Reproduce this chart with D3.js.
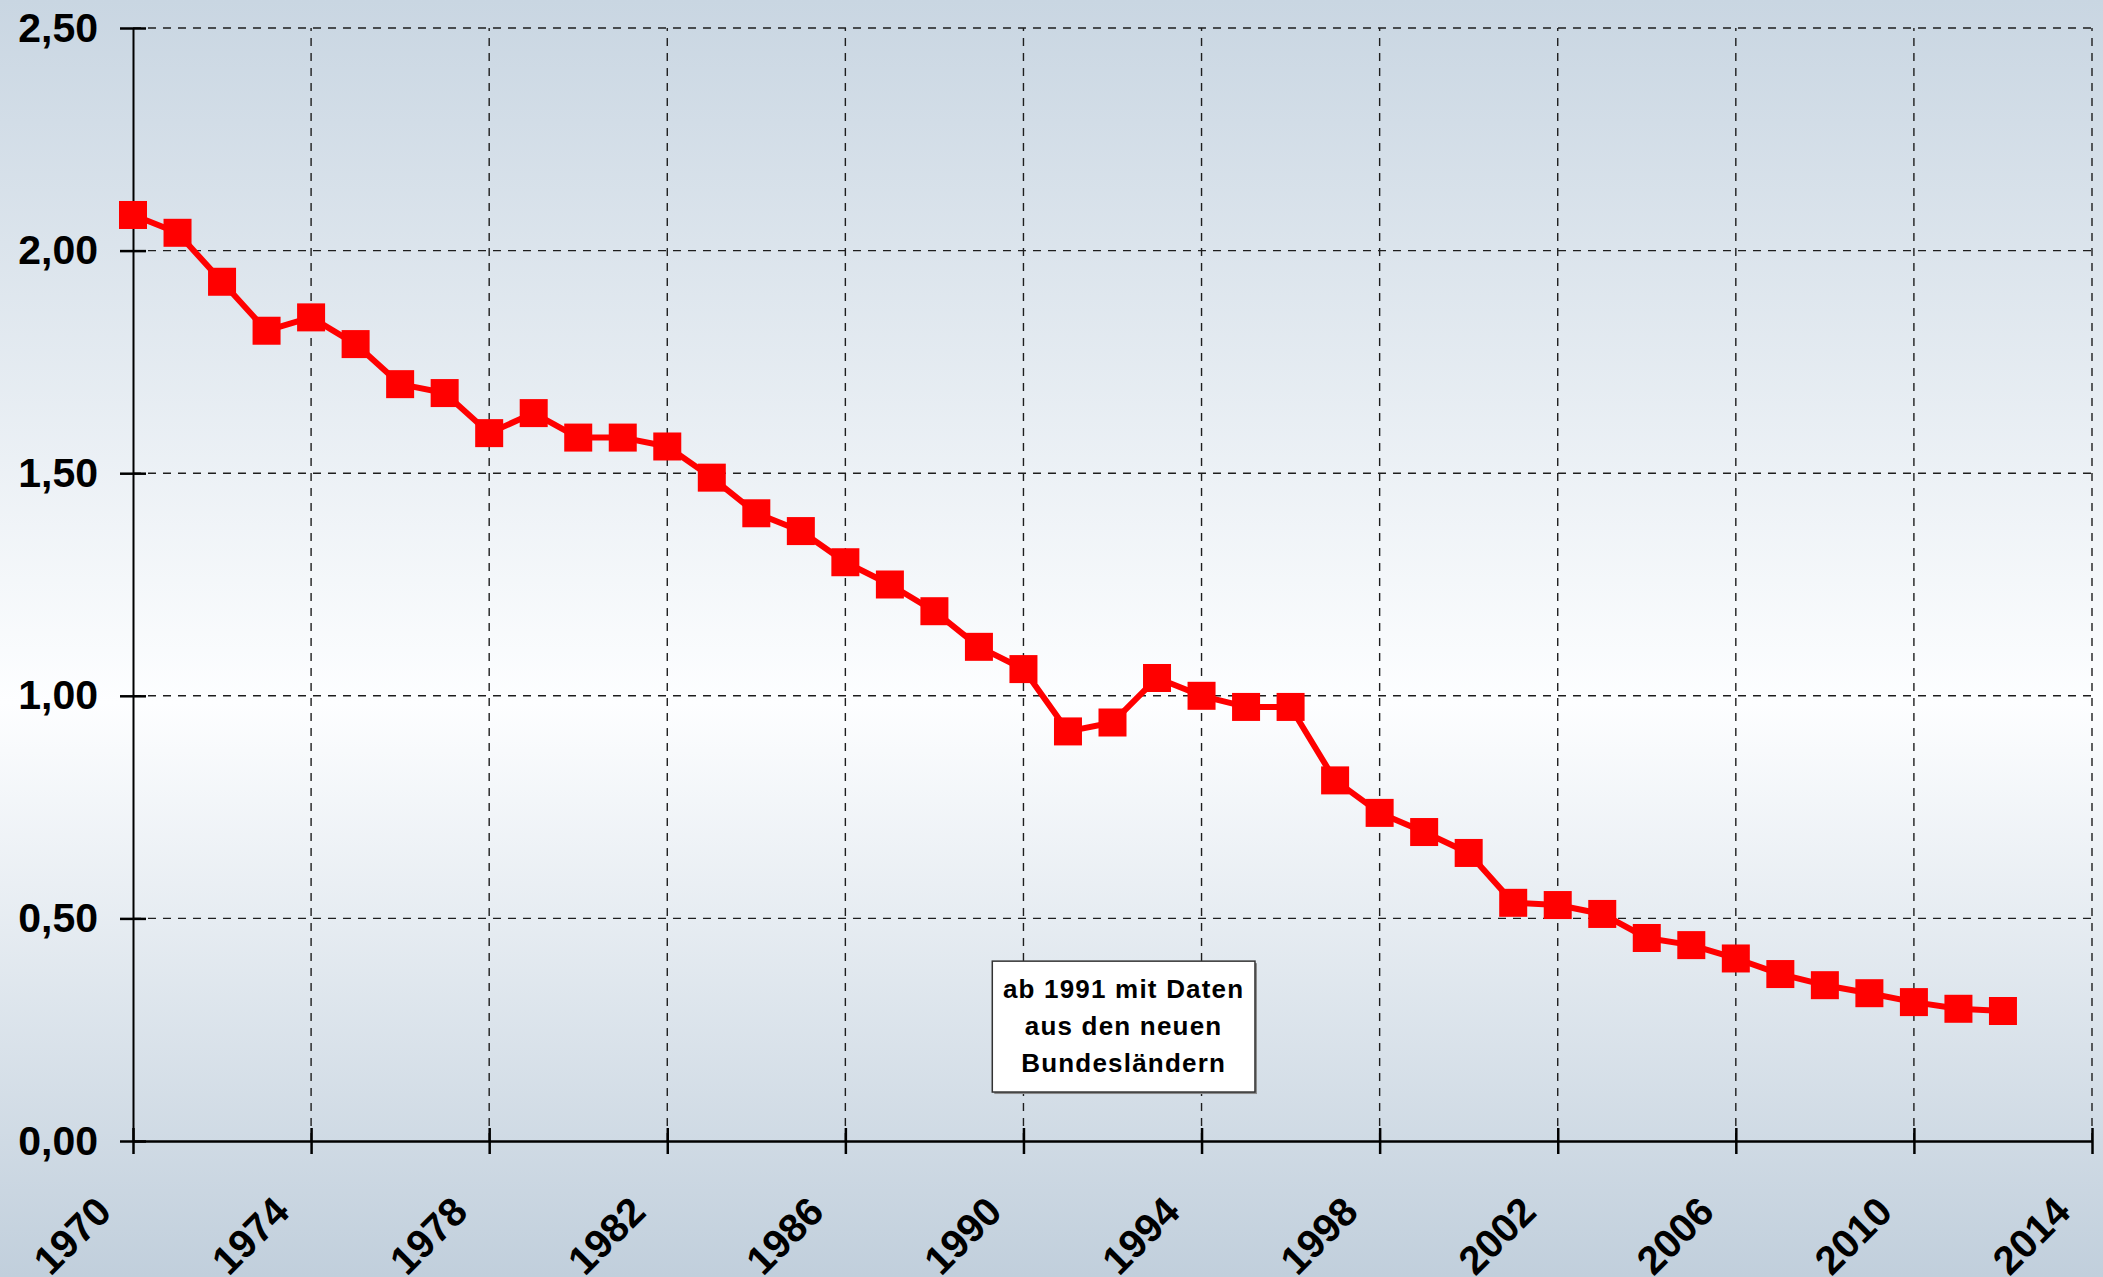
<!DOCTYPE html>
<html>
<head>
<meta charset="utf-8">
<script src="https://cdn.jsdelivr.net/npm/d3@7"></script>
<style>
  html, body { margin: 0; padding: 0; }
  svg { display: block; font-family: "Liberation Sans", Arial, sans-serif; }
</style>
</head>
<body>
<svg id="chart" width="2103" height="1277"></svg>
<script>
// Werte je Jahr
var years = [1970, 1971, 1972, 1973, 1974, 1975, 1976, 1977, 1978, 1979,
             1980, 1981, 1982, 1983, 1984, 1985, 1986, 1987, 1988, 1989,
             1990, 1991, 1992, 1993, 1994, 1995, 1996, 1997, 1998, 1999,
             2000, 2001, 2002, 2003, 2004, 2005, 2006, 2007, 2008, 2009,
             2010, 2011, 2012];
var values = [2.08, 2.04, 1.93, 1.82, 1.85, 1.79, 1.70, 1.68, 1.59, 1.635,
              1.58, 1.58, 1.56, 1.49, 1.41, 1.37, 1.30, 1.25, 1.19, 1.11,
              1.06, 0.92, 0.94, 1.04, 1.00, 0.975, 0.975, 0.81, 0.737, 0.694,
              0.647, 0.535, 0.53, 0.51, 0.456, 0.44, 0.41, 0.375, 0.35, 0.332,
              0.312, 0.297, 0.292];
var xTicks = [1970, 1974, 1978, 1982, 1986, 1990, 1994, 1998, 2002, 2006, 2010, 2014];
var yTicks = [0, 0.5, 1, 1.5, 2, 2.5];
var noteLines = ["ab 1991 mit Daten", "aus den neuen", "Bundesländern"];

var svg = d3.select("#chart"),
    W = +svg.attr("width"),
    H = +svg.attr("height"),
    margin = {top: 28, right: 11, bottom: 136, left: 133};

var data = years.map(function(y, i) { return {year: y, value: values[i]}; });

var de = d3.formatLocale({decimal: ",", thousands: ".", grouping: [3], currency: ["", " €"]});
var fmt = de.format(".2f");

// Hintergrund
var grad = svg.append("defs").append("linearGradient")
    .attr("id", "bg").attr("x1", 0).attr("y1", 0).attr("x2", 0).attr("y2", 1);
grad.append("stop").attr("offset", "0%").attr("stop-color", "#c9d6e2");
grad.append("stop").attr("offset", "55%").attr("stop-color", "#fdfeff");
grad.append("stop").attr("offset", "100%").attr("stop-color", "#c1cfdc");
svg.append("rect").attr("width", W).attr("height", H).attr("fill", "url(#bg)");

var x = d3.scaleLinear()
    .domain([1970, 2014])
    .range([margin.left, W - margin.right]);

var y = d3.scaleLinear()
    .domain([0, 2.5])
    .range([H - margin.bottom, margin.top]);

// Gitter
svg.append("g").selectAll("line")
    .data(yTicks.filter(function(d) { return d > 0; }))
    .enter().append("line")
    .attr("x1", x(1970)).attr("x2", x(2014))
    .attr("y1", y).attr("y2", y)
    .attr("stroke", "#1e1e1e").attr("stroke-width", 1.4)
    .attr("stroke-dasharray", "8,7");

svg.append("g").selectAll("line")
    .data(xTicks.filter(function(d) { return d > 1970; }))
    .enter().append("line")
    .attr("x1", x).attr("x2", x)
    .attr("y1", y(0)).attr("y2", y(2.5))
    .attr("stroke", "#1e1e1e").attr("stroke-width", 1.4)
    .attr("stroke-dasharray", "8,7");

// Achsen
var yAxis = svg.append("g")
    .attr("transform", "translate(" + x(1970) + ",0)")
    .call(d3.axisLeft(y).tickValues(yTicks).tickFormat(fmt).tickSize(0).tickPadding(35));
yAxis.select(".domain").attr("stroke", "#000").attr("stroke-width", 2);
yAxis.selectAll(".tick").append("line")
    .attr("x1", -13).attr("x2", 13)
    .attr("stroke", "#000").attr("stroke-width", 2.5);
yAxis.selectAll("text")
    .attr("font-size", 41).attr("font-weight", "bold")
    .attr("fill", "#000")
    .attr("font-family", "'Liberation Sans', Arial, sans-serif");

var xAxis = svg.append("g")
    .attr("transform", "translate(0," + y(0) + ")")
    .call(d3.axisBottom(x).tickValues(xTicks).tickFormat(d3.format("d")).tickSize(0));
xAxis.select(".domain").attr("stroke", "#000").attr("stroke-width", 2.5);
xAxis.selectAll(".tick line").remove();
xAxis.selectAll(".tick").append("line")
    .attr("y1", -13).attr("y2", 13)
    .attr("stroke", "#000").attr("stroke-width", 2.5);
xAxis.selectAll("text")
    .attr("font-size", 40).attr("font-weight", "bold")
    .attr("fill", "#000")
    .attr("font-family", "'Liberation Sans', Arial, sans-serif")
    .attr("text-anchor", "end")
    .attr("dy", 0)
    .attr("y", 0)
    .attr("transform", "translate(-20,73) rotate(-45)");

// Linie
var line = d3.line()
    .x(function(d) { return x(d.year); })
    .y(function(d) { return y(d.value); });

svg.append("path")
    .datum(data)
    .attr("fill", "none")
    .attr("stroke", "#ff0000")
    .attr("stroke-width", 6)
    .attr("stroke-linejoin", "round")
    .attr("d", line);

var size = 28;
svg.append("g").selectAll("rect")
    .data(data)
    .enter().append("rect")
    .attr("x", function(d) { return x(d.year) - size / 2; })
    .attr("y", function(d) { return y(d.value) - size / 2; })
    .attr("width", size).attr("height", size)
    .attr("fill", "#ff0000");

// Hinweis
var note = svg.append("g");
var bx0 = x(1989.3), bx1 = x(1995.2), by0 = y(0.404), by1 = y(0.11);
note.append("rect")
    .attr("x", bx0 + 2).attr("y", by0 + 2)
    .attr("width", bx1 - bx0).attr("height", by1 - by0)
    .attr("fill", "#8a8a8a");
note.append("rect")
    .attr("x", bx0).attr("y", by0)
    .attr("width", bx1 - bx0).attr("height", by1 - by0)
    .attr("fill", "#fff").attr("stroke", "#333").attr("stroke-width", 1.5);
note.selectAll("text")
    .data(noteLines)
    .enter().append("text")
    .attr("x", (bx0 + bx1) / 2)
    .attr("y", function(d, i) { return by0 + 37 + i * 37; })
    .attr("text-anchor", "middle")
    .attr("font-size", 26).attr("font-weight", "bold")
    .attr("letter-spacing", 1.2)
    .attr("fill", "#000")
    .text(function(d) { return d; });
</script>
</body>
</html>
